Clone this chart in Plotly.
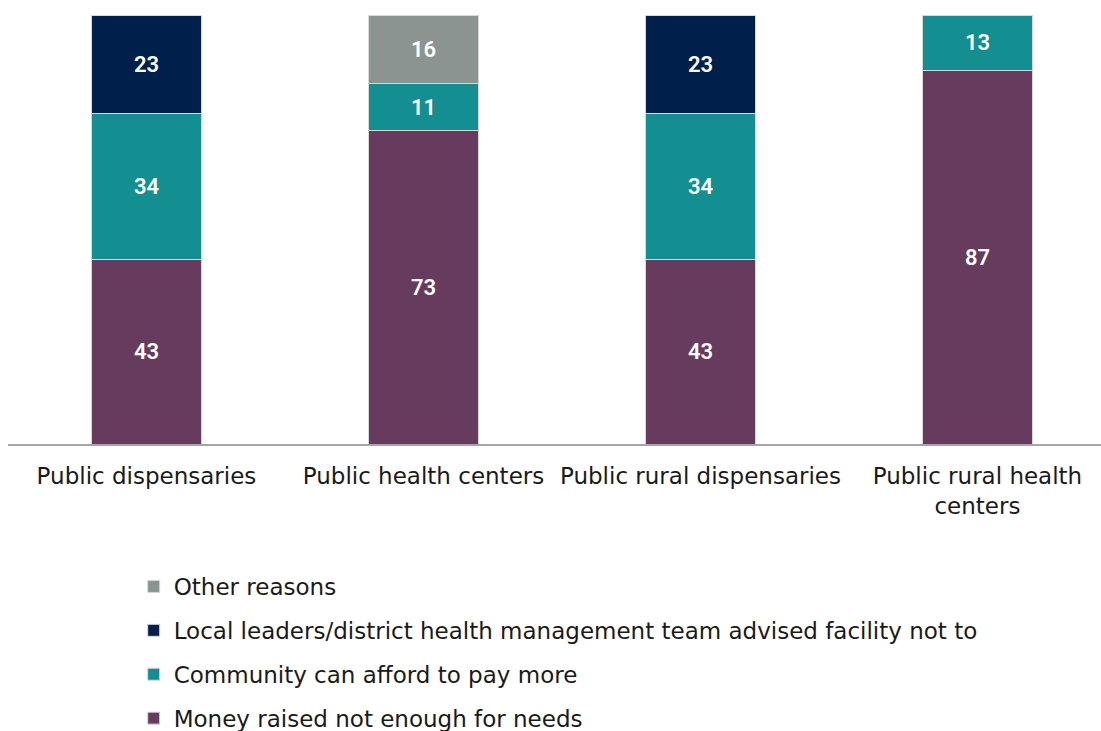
import plotly.graph_objects as go

categories = ["Public dispensaries", "Public health centers",
              "Public rural dispensaries", "Public rural health<br>centers"]

money_not_enough = [43, 73, 43, 87]
community_can_pay = [34, 11, 34, 13]
leaders_advised = [23, None, 23, None]
other_reasons = [None, 16, None, None]

# (legend label, values, colour, legend rank)
series = [
    ("Money raised not enough for needs", money_not_enough, "#673B5E", 4),
    ("Community can afford to pay more", community_can_pay, "#138E91", 3),
    ("Local leaders/district health management team advised facility not to", leaders_advised, "#011F4B", 2),
    ("Other reasons", other_reasons, "#8B9490", 1),
]

LABEL_FONT = "Century Gothic, DejaVu Sans, sans-serif"

fig = go.Figure()
for name, vals, color, rank in series:
    fig.add_trace(go.Bar(
        name=name,
        x=list(range(len(categories))),
        y=vals,
        marker=dict(color=color, line=dict(color="#D8D8D8", width=1)),
        text=[("" if v is None else str(v)) for v in vals],
        textposition="inside",
        insidetextanchor="middle",
        textangle=0,
        textfont=dict(family="Roboto, sans-serif", size=22, color="white", weight=600),
        legendgroup=name,
        legendrank=rank,
        width=0.4,
    ))

fig.update_layout(
    barmode="stack",
    width=1101, height=731,
    margin=dict(l=8, r=0, t=15, b=287, autoexpand=False),
    paper_bgcolor="white",
    plot_bgcolor="white",
    showlegend=True,
    legend=dict(
        traceorder="grouped",
        tracegroupgap=11,
        orientation="v",
        x=0.115, xanchor="left",
        y=-0.282, yanchor="top",
        font=dict(family=LABEL_FONT, size=23, color="#1A1A1A"),
        itemwidth=30,
        bgcolor="rgba(0,0,0,0)",
    ),
    xaxis=dict(
        tickmode="array",
        tickvals=list(range(len(categories))),
        ticktext=categories,
        range=[-0.5, 3.446],
        showline=True, linecolor="#A6A6A6", linewidth=2,
        ticks="", showgrid=False, zeroline=False,
        ticklabelstandoff=10,
        tickfont=dict(family=LABEL_FONT, size=23, color="#1A1A1A"),
    ),
    yaxis=dict(
        range=[0, 100],
        visible=False, showgrid=False, zeroline=False,
    ),
)

fig.write_html("out.html")
